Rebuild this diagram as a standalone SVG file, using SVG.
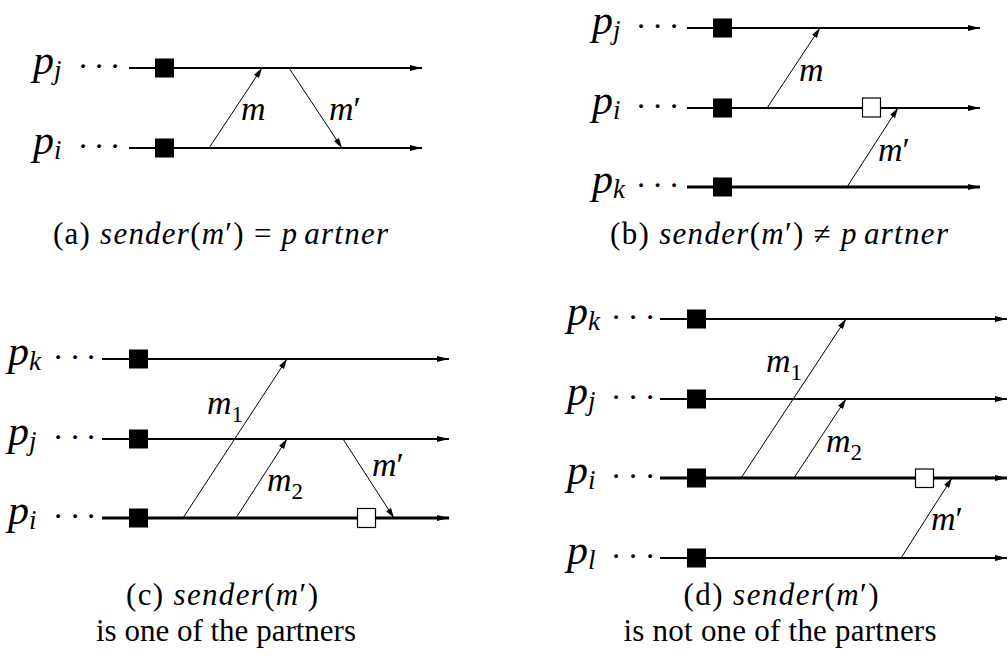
<svg xmlns="http://www.w3.org/2000/svg" width="1008" height="656" viewBox="0 0 1008 656">
<style>
.pl{font-family:"Liberation Serif","Times New Roman",serif;font-style:italic;font-size:42px;fill:#000}
.sub{font-size:27px}
.ml{font-family:"Liberation Serif","Times New Roman",serif;font-style:italic;font-size:34px;fill:#000}
.msub{font-size:23px;font-style:normal}
.pr{font-style:normal}
.dots{font-family:"Liberation Serif","Times New Roman",serif;font-size:32px;fill:#000;text-anchor:middle}
.proc{stroke:#000;stroke-width:2;fill:none;marker-end:url(#ah)}
.thick{stroke-width:3.2}
.msg{stroke:#000;stroke-width:1;fill:none;marker-end:url(#ahs)}
.ck{fill:#000}
.op{fill:#fff;stroke:#000;stroke-width:1.2}
.cap{font-family:"Liberation Serif","Times New Roman",serif;font-size:31px;fill:#000;text-anchor:middle}
.it{font-style:italic}
</style>
<defs>
<marker id="ah" markerUnits="userSpaceOnUse" markerWidth="12" markerHeight="8" refX="12" refY="4" orient="auto">
<path d="M0,0.9 L12,4 L0,7.1 z" fill="#000"/>
</marker>
<marker id="ahs" markerUnits="userSpaceOnUse" markerWidth="10" markerHeight="7" refX="10" refY="3.5" orient="auto">
<path d="M0,0.6 L10,3.5 L0,6.4 z" fill="#000"/>
</marker>
</defs>

<!-- Panel (a) -->
<g id="a-pj">
<text class="pl" x="33" y="74">p<tspan class="sub" dy="5">j</tspan></text>
<text class="dots" y="77"><tspan x="83">·</tspan><tspan x="99">·</tspan><tspan x="115">·</tspan></text>
<line class="proc" x1="129" y1="68" x2="422" y2="68"/>
<rect class="ck" x="155" y="58.5" width="19" height="19"/>
</g>
<g id="a-pi">
<text class="pl" x="33" y="154">p<tspan class="sub" dy="5">i</tspan></text>
<text class="dots" y="157"><tspan x="83">·</tspan><tspan x="99">·</tspan><tspan x="115">·</tspan></text>
<line class="proc" x1="129" y1="148" x2="422" y2="148"/>
<rect class="ck" x="155" y="138.5" width="19" height="19"/>
</g>

<!-- Panel (b) -->
<g id="b-pj">
<text class="pl" x="592" y="34">p<tspan class="sub" dy="5">j</tspan></text>
<text class="dots" y="37"><tspan x="641">·</tspan><tspan x="657.5">·</tspan><tspan x="674">·</tspan></text>
<line class="proc" x1="687" y1="28" x2="980" y2="28"/>
<rect class="ck" x="713" y="18.5" width="19" height="19"/>
</g>
<g id="b-pi">
<text class="pl" x="592" y="114">p<tspan class="sub" dy="5">i</tspan></text>
<text class="dots" y="117"><tspan x="641">·</tspan><tspan x="657.5">·</tspan><tspan x="674">·</tspan></text>
<line class="proc" x1="687" y1="108" x2="980" y2="108"/>
<rect class="ck" x="713" y="98.5" width="19" height="19"/>
<rect class="op" x="862.5" y="98" width="18" height="19"/>
</g>
<g id="b-pk">
<text class="pl" x="592" y="193">p<tspan class="sub" dy="5">k</tspan></text>
<text class="dots" y="196"><tspan x="641">·</tspan><tspan x="657.5">·</tspan><tspan x="674">·</tspan></text>
<line class="proc thick" x1="687" y1="187" x2="980" y2="187"/>
<rect class="ck" x="713" y="177.5" width="19" height="19"/>
</g>

<!-- Panel (c) -->
<g id="c-pk">
<text class="pl" x="8" y="365">p<tspan class="sub" dy="5">k</tspan></text>
<text class="dots" y="368"><tspan x="58">·</tspan><tspan x="75">·</tspan><tspan x="91">·</tspan></text>
<line class="proc" x1="102" y1="359" x2="449" y2="359"/>
<rect class="ck" x="129" y="349.5" width="19" height="19"/>
</g>
<g id="c-pj">
<text class="pl" x="8" y="445">p<tspan class="sub" dy="5">j</tspan></text>
<text class="dots" y="448"><tspan x="58">·</tspan><tspan x="75">·</tspan><tspan x="91">·</tspan></text>
<line class="proc" x1="102" y1="439" x2="449" y2="439"/>
<rect class="ck" x="129" y="429.5" width="19" height="19"/>
</g>
<g id="c-pi">
<text class="pl" x="8" y="524">p<tspan class="sub" dy="5">i</tspan></text>
<text class="dots" y="527"><tspan x="58">·</tspan><tspan x="75">·</tspan><tspan x="91">·</tspan></text>
<line class="proc thick" x1="102" y1="518" x2="449" y2="518"/>
<rect class="ck" x="129" y="508.5" width="19" height="19"/>
<rect class="op" x="357.5" y="508.5" width="18" height="19"/>
</g>

<!-- Panel (d) -->
<g id="d-pk">
<text class="pl" x="567" y="325">p<tspan class="sub" dy="5">k</tspan></text>
<text class="dots" y="328"><tspan x="616">·</tspan><tspan x="633">·</tspan><tspan x="650">·</tspan></text>
<line class="proc" x1="660" y1="319" x2="1007" y2="319"/>
<rect class="ck" x="687" y="309.5" width="19" height="19"/>
</g>
<g id="d-pj">
<text class="pl" x="567" y="405">p<tspan class="sub" dy="5">j</tspan></text>
<text class="dots" y="408"><tspan x="616">·</tspan><tspan x="633">·</tspan><tspan x="650">·</tspan></text>
<line class="proc" x1="660" y1="399" x2="1007" y2="399"/>
<rect class="ck" x="687" y="389.5" width="19" height="19"/>
</g>
<g id="d-pi">
<text class="pl" x="567" y="484">p<tspan class="sub" dy="5">i</tspan></text>
<text class="dots" y="487"><tspan x="616">·</tspan><tspan x="633">·</tspan><tspan x="650">·</tspan></text>
<line class="proc thick" x1="660" y1="478" x2="1007" y2="478"/>
<rect class="ck" x="687" y="468.5" width="19" height="19"/>
<rect class="op" x="915.5" y="469" width="18" height="18.5"/>
</g>
<g id="d-pl">
<text class="pl" x="567" y="564">p<tspan class="sub" dy="5">l</tspan></text>
<text class="dots" y="567"><tspan x="616">·</tspan><tspan x="633">·</tspan><tspan x="650">·</tspan></text>
<line class="proc" x1="660" y1="558" x2="1007" y2="558"/>
<rect class="ck" x="687" y="548.5" width="19" height="19"/>
</g>

<!-- Connectors (messages) -->
<g id="connectors">
<line class="msg" x1="209" y1="148" x2="262" y2="68"/>
<line class="msg" x1="289" y1="68" x2="342" y2="148"/>
<line class="msg" x1="767" y1="108" x2="820" y2="28"/>
<line class="msg" x1="847" y1="187" x2="898" y2="108"/>
<line class="msg" x1="183" y1="518" x2="287" y2="359"/>
<line class="msg" x1="236" y1="518" x2="287" y2="439"/>
<line class="msg" x1="343" y1="439" x2="394" y2="518"/>
<line class="msg" x1="741" y1="478" x2="846" y2="319"/>
<line class="msg" x1="794" y1="478" x2="846" y2="399"/>
<line class="msg" x1="901" y1="558" x2="952" y2="478"/>
</g>

<!-- Message labels -->
<g id="msg-labels">
<text class="ml" x="241" y="120">m</text>
<text class="ml" x="329" y="120">m<tspan class="pr">′</tspan></text>
<text class="ml" x="799" y="81">m</text>
<text class="ml" x="878" y="161">m<tspan class="pr">′</tspan></text>
<text class="ml" x="207" y="414">m<tspan class="msub" dy="8">1</tspan></text>
<text class="ml" x="267" y="491">m<tspan class="msub" dy="8">2</tspan></text>
<text class="ml" x="372" y="476">m<tspan class="pr">′</tspan></text>
<text class="ml" x="766" y="372">m<tspan class="msub" dy="8">1</tspan></text>
<text class="ml" x="826" y="452">m<tspan class="msub" dy="8">2</tspan></text>
<text class="ml" x="931" y="530">m<tspan class="pr">′</tspan></text>
</g>

<!-- Captions -->
<g id="caption-a">
<text class="cap" x="220.5" y="244" textLength="335" lengthAdjust="spacing">(a) <tspan class="it">sender</tspan>(<tspan class="it">m</tspan>′) = <tspan class="it">p</tspan><tspan class="it" dx="6">artner</tspan></text>
</g>
<g id="caption-b">
<text class="cap" x="779" y="244" textLength="338" lengthAdjust="spacing">(b) <tspan class="it">sender</tspan>(<tspan class="it">m</tspan>′) ≠ <tspan class="it">p</tspan><tspan class="it" dx="6">artner</tspan></text>
</g>
<g id="caption-c">
<text class="cap" x="222" y="605" textLength="192" lengthAdjust="spacing">(c) <tspan class="it">sender</tspan>(<tspan class="it">m</tspan>′)</text>
<text class="cap" x="226" y="641">is one of the partners</text>
</g>
<g id="caption-d">
<text class="cap" x="781" y="605" textLength="195" lengthAdjust="spacing">(d) <tspan class="it">sender</tspan>(<tspan class="it">m</tspan>′)</text>
<text class="cap" x="780" y="641" textLength="313" lengthAdjust="spacing">is not one of the partners</text>
</g>
</svg>
